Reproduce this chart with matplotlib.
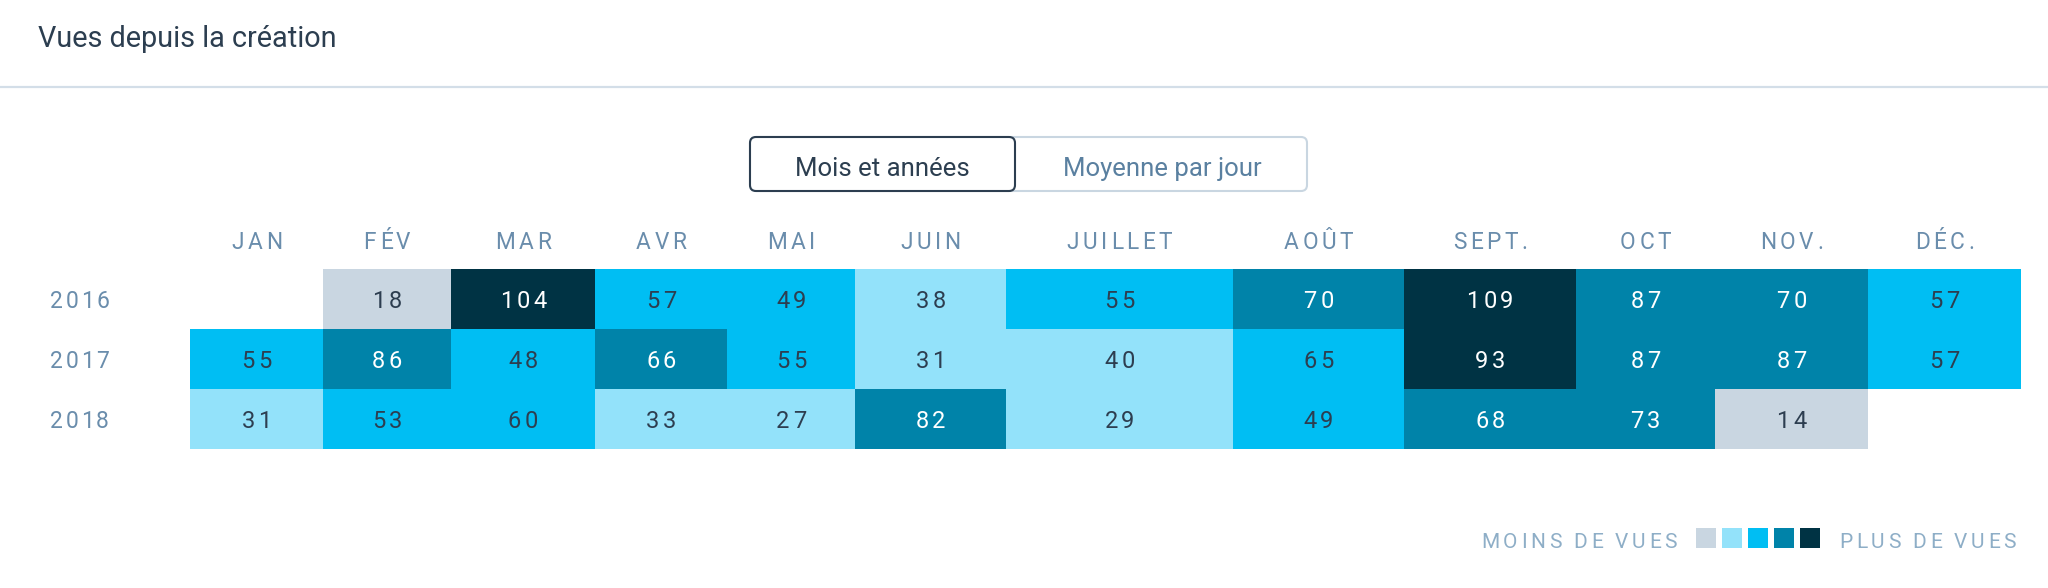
import matplotlib
matplotlib.use("Agg")
import matplotlib.pyplot as plt
import numpy as np
from matplotlib.colors import ListedColormap, BoundaryNorm
from matplotlib.patches import FancyBboxPatch, Rectangle
from matplotlib.font_manager import FontProperties

# datos del grafico
annees = ["2016", "2017", "2018"]
mois = ["JAN", "FÉV", "MAR", "AVR", "MAI", "JUIN", "JUILLET", "AOÛT", "SEPT.", "OCT", "NOV.", "DÉC."]
vues_2016 = [np.nan, 18, 104, 57, 49, 38, 55, 70, 109, 87, 70, 57]
vues_2017 = [55, 86, 48, 66, 55, 31, 40, 65, 93, 87, 87, 57]
vues_2018 = [31, 53, 60, 33, 27, 82, 29, 49, 68, 73, 14, np.nan]

titre = "Vues depuis la création"
boutons = ["Mois et années", "Moyenne par jour"]
legende_moins = "MOINS DE VUES"
legende_plus = "PLUS DE VUES"

couleurs = ["#c9d6e1", "#93e2fa", "#00bef3", "#0083a9", "#003344"]

FUENTE = "Roboto"
W, H = 2048, 588

# largeur des colonnes (pixels), mise en page
largeurs = [133, 128, 144, 132, 128, 151, 227, 171, 172, 139, 153, 153]
x0 = 190
hauteur_ligne = 60
y0 = 269

fig = plt.figure(figsize=(W / 100, H / 100), dpi=100)
ax = fig.add_axes([0, 0, 1, 1])
ax.set_xlim(0, W)
ax.set_ylim(H, 0)
ax.axis("off")
renderer = fig.canvas.get_renderer()


def largeur_car(c, fp):
    a = renderer.get_text_width_height_descent("|" + c + "|", fp, ismath=False)[0]
    b = renderer.get_text_width_height_descent("||", fp, ismath=False)[0]
    return a - b


def texte_espace(x, y, s, size, color, track, ha="center"):
    # texte avec espacement des lettres (y = ligne de base)
    fp = FontProperties(family=FUENTE, size=size)
    anchos = [largeur_car(c, fp) for c in s]
    total = sum(anchos) + track * (len(s) - 1)
    if ha == "center":
        xi = x - total / 2
    elif ha == "right":
        xi = x - total
    else:
        xi = x
    for c, w in zip(s, anchos):
        ax.text(xi, y, c, fontproperties=fp, color=color, ha="left", va="baseline")
        xi += w + track
    return total


# titre et ligne de separation
ax.text(38, 47, titre, fontfamily=FUENTE, fontsize=20.8, color="#2c3e50", ha="left", va="baseline")
ax.plot([0, W], [87, 87], color="#d3dee8", lw=1.6, solid_capstyle="butt")

# boutons
ax.add_patch(FancyBboxPatch((750, 137), 557, 54, boxstyle="round,pad=0,rounding_size=6",
                            facecolor="white", edgecolor="#c9d6e1", lw=1.5))
ax.add_patch(FancyBboxPatch((750, 137), 265, 54, boxstyle="round,pad=0,rounding_size=6",
                            facecolor="white", edgecolor="#2c3e50", lw=1.5))
ax.text(882, 176, boutons[0], fontfamily=FUENTE, fontsize=18.5, color="#2c3e50", ha="center", va="baseline")
ax.text(1162, 176, boutons[1], fontfamily=FUENTE, fontsize=18.5, color="#5a80a0", ha="center", va="baseline")

# carte de chaleur
valeurs = np.array([vues_2016, vues_2017, vues_2018], dtype=float)
bornes = np.linspace(0, np.nanmax(valeurs), len(couleurs) + 1)
cmap = ListedColormap(couleurs)
norm = BoundaryNorm(bornes, cmap.N)

bords_x = x0 + np.concatenate([[0], np.cumsum(largeurs)])
bords_y = y0 + hauteur_ligne * np.arange(len(annees) + 1)
ax.pcolormesh(bords_x, bords_y, np.ma.masked_invalid(valeurs), cmap=cmap, norm=norm)

centres_x = (bords_x[:-1] + bords_x[1:]) / 2
centres_y = (bords_y[:-1] + bords_y[1:]) / 2

for j, m in enumerate(mois):
    texte_espace(centres_x[j], 249, m, 16.3, "#6a8dac", 3.6)

for i, an in enumerate(annees):
    texte_espace(50, centres_y[i] + 8.5, an, 16.5, "#6a8dac", 2.5, ha="left")
    for j in range(len(mois)):
        v = valeurs[i, j]
        if np.isnan(v):
            continue
        clair = norm(v) >= 3
        texte_espace(centres_x[j], centres_y[i] + 8.5, str(int(v)), 17, "white" if clair else "#2d3e50", 3.5)

# legende
texte_espace(1677, 548, legende_moins, 15, "#8eaec7", 3.6, ha="right")
for k, c in enumerate(couleurs):
    ax.add_patch(Rectangle((1696 + 26 * k, 528), 20, 20, facecolor=c, edgecolor="none"))
texte_espace(1839, 548, legende_plus, 15, "#8eaec7", 3.6, ha="left")

fig.savefig("out.png", dpi=100)
